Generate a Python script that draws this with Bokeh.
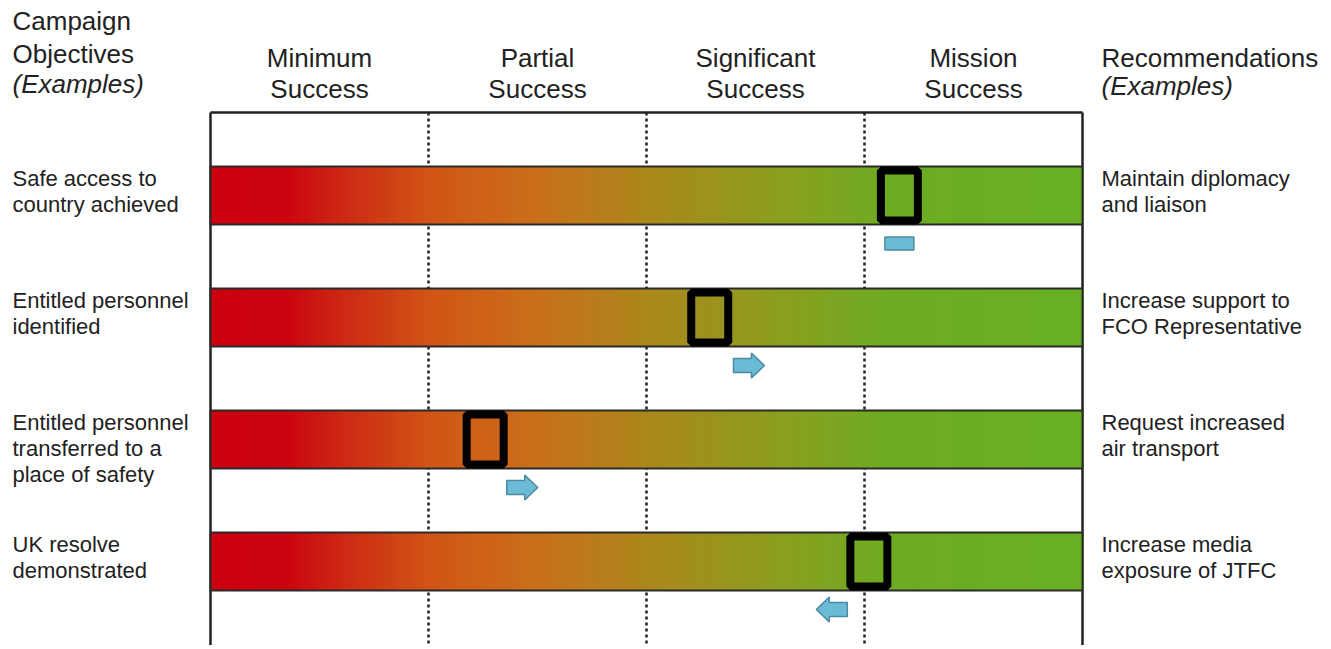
import numpy as np
from bokeh.plotting import figure
from bokeh.models import Range1d
from bokeh.core.properties import value
from bokeh.embed import file_html
from bokeh.resources import INLINE

# ---------------- data ----------------
levels = ["Minimum\nSuccess", "Partial\nSuccess", "Significant\nSuccess", "Mission\nSuccess"]
objectives = [
    "Safe access to\ncountry achieved",
    "Entitled personnel\nidentified",
    "Entitled personnel\ntransferred to a\nplace of safety",
    "UK resolve\ndemonstrated",
]
recommendations = [
    "Maintain diplomacy\nand liaison",
    "Increase support to\nFCO Representative",
    "Request increased\nair transport",
    "Increase media\nexposure of JTFC",
]
left_header = ["Campaign", "Objectives"]
right_header = ["Recommendations"]
examples = "(Examples)"
assessment = [3.16, 2.29, 1.26, 3.02]     # position of current assessment (0..4 scale)
trend = [0, 1, 1, -1]                     # direction of travel
trend_pos = [3.16, 2.47, 1.43, 2.85]      # where the trend arrow sits

# ---------------- style / layout ----------------
FONT = value("Liberation Sans")
TXT = "#222222"
UX = 218.0   # px per level unit
UY = 122.0   # px per row unit
X0, Y0 = 210.0, 195.0   # page px of x=0, row 0 centre
OFF = 0                 # page offset of the figure
TSH = -8                # text baseline correction (px)

def dx(px): return px / UX
def dy(px): return px / UY
def ypage(px): return (px - Y0) / UY

stops_x = [0.0, 0.35, 0.6, 1.0, 1.5, 2.0, 2.6, 3.1, 4.0]
stops_c = [(204, 0, 16), (204, 5, 16), (205, 40, 20), (210, 85, 22), (202, 112, 26),
           (172, 136, 28), (140, 158, 32), (110, 172, 34), (104, 176, 36)]

def grad(x):
    r = np.interp(x, stops_x, [c[0] for c in stops_c])
    g = np.interp(x, stops_x, [c[1] for c in stops_c])
    b = np.interp(x, stops_x, [c[2] for c in stops_c])
    return "#%02x%02x%02x" % (int(r), int(g), int(b))

W, H = 1331, 645
p = figure(width=W, height=H,
           x_range=Range1d((OFF - X0) / UX, (OFF + W - X0) / UX),
           y_range=Range1d(ypage(OFF + H), ypage(OFF)),
           output_backend="svg", toolbar_location=None, min_border=0,
           x_axis_location=None, y_axis_location=None)
p.grid.visible = False
p.outline_line_color = None
p.background_fill_color = "white"
p.border_fill_color = "white"

n_levels = len(levels)
n_rows = len(objectives)
rows = np.arange(n_rows)
box_top = ypage(112)
box_bot = ypage(OFF + H) + 1

# dotted level separators
for k in range(1, n_levels):
    p.line([k, k], [box_top, box_bot], line_color="#222222", line_width=2.5, line_dash="3 3")
# box
p.line([0, 0], [box_bot, box_top], line_color="#222222", line_width=2.5)
p.line([n_levels, n_levels], [box_bot, box_top], line_color="#222222", line_width=2.5)
p.line([0, n_levels], [box_top, box_top], line_color="#222222", line_width=2.5)

# gradient bars
half = dy(29)
N = 200
edges = np.linspace(0, n_levels, N + 1)
cols = [grad(0.5 * (edges[j] + edges[j + 1])) for j in range(N)]
L, R, T, B, C = [], [], [], [], []
for r in rows:
    L += list(edges[:-1]); R += list(edges[1:] + 0.005)
    T += [r - half] * N; B += [r + half] * N; C += cols
p.quad(left=L, right=R, top=T, bottom=B, fill_color=C, line_color=None)
p.quad(left=[0] * n_rows, right=[n_levels] * n_rows, top=list(rows - half), bottom=list(rows + half),
       fill_alpha=0, line_color="#2a2a2a", line_width=2)

# assessment markers
p.rect(x=assessment, y=list(rows), width=dx(37), height=dy(50),
       fill_alpha=0, line_color="black", line_width=8)

# trend arrows
xs, ys = [], []
for r, d, xp in zip(rows, trend, trend_pos):
    yc = r + dy(48)
    if d == 0:
        px = [-14.5, 14.5, 14.5, -14.5]
        pyy = [-6.5, -6.5, 6.5, 6.5]
    else:
        Lh, hl, s, h = 15.5, 13, 7, 12.5
        px = [-Lh, Lh - hl, Lh - hl, Lh, Lh - hl, Lh - hl, -Lh]
        px = [d * v for v in px]
        pyy = [-s, -s, -h, 0, h, s, s]
    xs.append([xp + dx(v) for v in px])
    ys.append([yc + dy(v) for v in pyy])
p.patches(xs, ys, fill_color="#6bbad6", line_color="#4d8aa0", line_width=1.5)

# column headers
hx, hy, ht = [], [], []
for k, lv in enumerate(levels):
    for j, ln in enumerate(lv.split("\n")):
        hx.append(k + 0.5); hy.append(ypage(65 + TSH + j * 31)); ht.append(ln)
HFS = value("26px")
p.text(x=hx, y=hy, text=ht, text_font=FONT, text_font_size=HFS, text_color=TXT,
       text_align="center", text_baseline="alphabetic")

# left / right headers
lx = (12 - X0) / UX
rx = (1101 - X0) / UX
p.text(x=[lx, lx], y=[ypage(28 + TSH), ypage(61 + TSH)], text=left_header, text_font=FONT,
       text_font_size=HFS, text_color=TXT, text_align="left", text_baseline="alphabetic")
p.text(x=[rx], y=[ypage(65 + TSH)], text=right_header, text_font=FONT,
       text_font_size=HFS, text_color=TXT, text_align="left", text_baseline="alphabetic")
p.text(x=[lx, rx], y=[ypage(91 + TSH), ypage(93 + TSH)], text=[examples, examples], text_font=FONT,
       text_font_size=HFS, text_font_style="italic", text_color=TXT,
       text_align="left", text_baseline="alphabetic")

# row labels
ox, oy, ot = [], [], []
rx_, ry_, rt_ = [], [], []
for r in rows:
    base = r - half + dy(20 + TSH)
    for j, ln in enumerate(objectives[r].split("\n")):
        ox.append(lx); oy.append(base + dy(26 * j)); ot.append(ln)
    for j, ln in enumerate(recommendations[r].split("\n")):
        rx_.append(rx); ry_.append(base + dy(26 * j)); rt_.append(ln)
RFS = value("22px")
p.text(x=ox, y=oy, text=ot, text_font=FONT, text_font_size=RFS, text_color=TXT,
       text_align="left", text_baseline="alphabetic")
p.text(x=rx_, y=ry_, text=rt_, text_font=FONT, text_font_size=RFS, text_color=TXT,
       text_align="left", text_baseline="alphabetic")

open("out.html", "w").write(file_html(p, INLINE))
